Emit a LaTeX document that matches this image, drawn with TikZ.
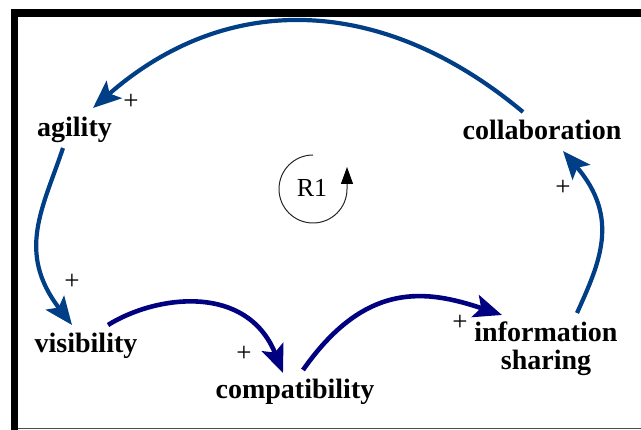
\documentclass[tikz,border=0pt]{standalone}
\usepackage{fontspec}
\setmainfont{Liberation Serif}
\usetikzlibrary{arrows.meta}
\definecolor{loopblue}{RGB}{0,62,133}
\definecolor{navyarrow}{RGB}{0,0,128}
\begin{document}
\begin{tikzpicture}[x=1pt,y=-1pt,
  var/.style={font=\fontsize{28}{28}\selectfont\bfseries, inner sep=0pt, anchor=base, align=center},
  pol/.style={font=\fontsize{27}{27}\selectfont, inner sep=0pt},
  link/.style={line width=4.2pt, -{Stealth[length=28pt,width=23pt,inset=6pt]}},
  outer/.style={link, loopblue},
  inner/.style={link, navyarrow, line width=4.6pt}]
\useasboundingbox (0,0) rectangle (641,430);
% frame
\fill[black] (11,9) rectangle (641,17);
\fill[black] (11,9) rectangle (18,430);
\draw[line width=1.2pt, black!70] (18,428.6) -- (641,428.6);
% variables
\node[var] (agility) at (74.5,137) {agility};
\node[var] (collab) at (542,140) {collaboration};
\node[var] (visibility) at (86,353) {visibility};
\node[var] (compat) at (295,399) {compatibility};
\node[var] (info) at (546,370) {information\\sharing};
% loop marker
\node[font=\fontsize{26}{26}\selectfont, inner sep=0pt, anchor=base] (r1) at (312,197) {R1};
\draw[line width=1pt, black!85, -{Triangle[length=17pt,width=12pt,fill=black,color=black]}]
  ([shift={(1,-42)}]r1.base) arc[start angle=-90, end angle=-360, radius=34] -- ++(0,-22);
% connectors
\draw[outer] ([shift={(-19,-28)}]collab.base) .. controls (383,-5) and (228,-10) .. ([shift={(18.5,-29)}]agility.base);
\draw[outer] ([shift={(-11.5,11)}]agility.base) .. controls (43,208) and (16,252) .. ([shift={(-14,-28)}]visibility.base);
\draw[inner] ([shift={(22,-28)}]visibility.base) .. controls (156,295) and (247,283) .. ([shift={(-12,-26)}]compat.base);
\draw[inner] ([shift={(8,-29)}]compat.base) .. controls (366,280) and (427,290) .. ([shift={(-44,-55)}]info.base);
\draw[outer] ([shift={(31,-57)}]info.base) .. controls (599.5,263) and (620.5,218) .. ([shift={(21,11)}]collab.base);
% polarities
\node[pol] (p1) at (131,102) {+};
\node[pol] (p2) at (72,282) {+};
\node[pol] (p3) at (244,354) {+};
\node[pol] (p4) at (460,323) {+};
\node[pol] (p5) at (563,188) {+};
\end{tikzpicture}
\end{document}
